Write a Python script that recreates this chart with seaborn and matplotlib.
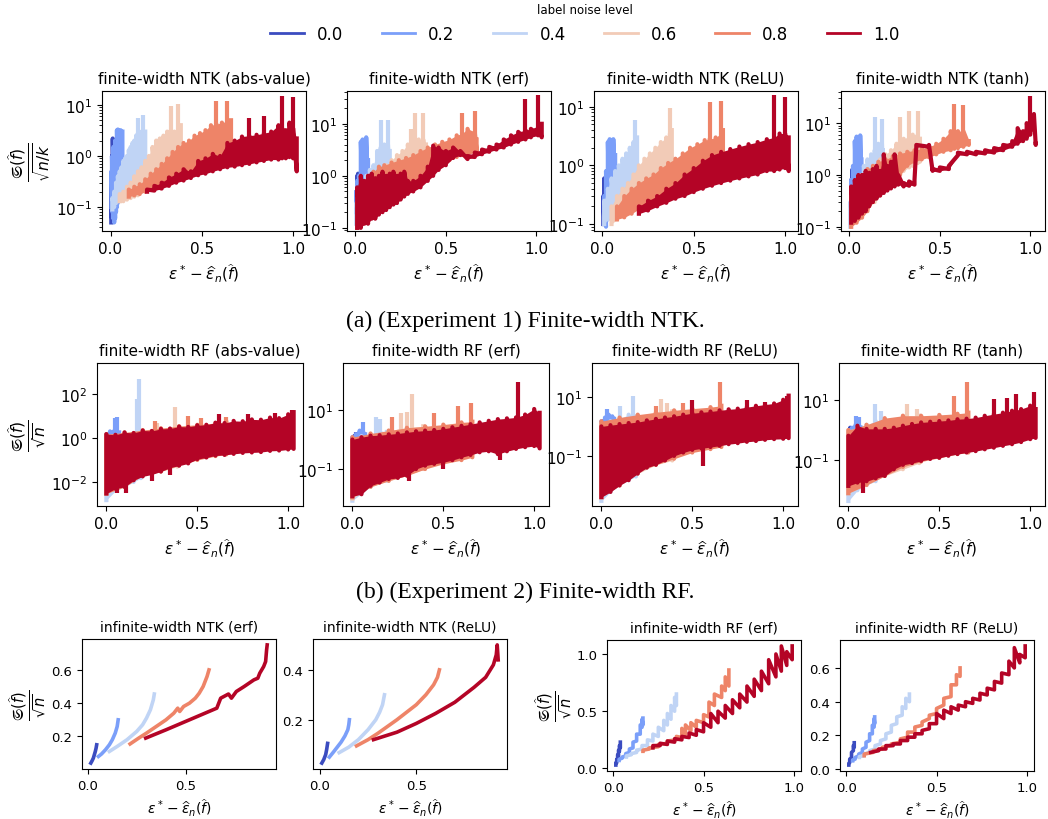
import numpy as np
import matplotlib
matplotlib.use("Agg")
import matplotlib.pyplot as plt
from matplotlib.lines import Line2D
import seaborn as sns

# label noise levels (legend)
noise_levels = ["0.0", "0.2", "0.4", "0.6", "0.8", "1.0"]

# ---------------------------------------------------------------------------
# (a) finite-width NTK : x, lower / upper edge of the saw-tooth band per noise
#     level, plus isolated spikes (sx, sy)
# ---------------------------------------------------------------------------
ntk_abs_x = [
    [0.004, 0.008, 0.012, 0.016],
    [0.005, 0.01, 0.015, 0.02, 0.025, 0.03, 0.035, 0.04, 0.045, 0.05, 0.055, 0.06, 0.065],
    [0.01, 0.02, 0.03, 0.04, 0.05, 0.06, 0.07, 0.08, 0.09, 0.1, 0.11, 0.12, 0.13, 0.14, 0.15, 0.16, 0.17, 0.18, 0.19],
    [0.05, 0.07, 0.09, 0.11, 0.13, 0.15, 0.17, 0.19, 0.21, 0.23, 0.25, 0.27, 0.29, 0.31, 0.33, 0.35, 0.37, 0.385],
    [0.10, 0.13, 0.16, 0.19, 0.22, 0.25, 0.28, 0.31, 0.34, 0.37, 0.40, 0.43, 0.46, 0.49, 0.52, 0.55, 0.58, 0.61, 0.64, 0.66],
    [0.20, 0.24, 0.28, 0.32, 0.36, 0.40, 0.44, 0.48, 0.52, 0.56, 0.60, 0.64, 0.68, 0.72, 0.76, 0.80, 0.84, 0.88, 0.92, 0.94, 0.96, 0.98, 1.00, 1.02],
]
ntk_abs_lo = [
    [0.05, 0.06, 0.08, 0.1],
    [0.1, 0.08, 0.06, 0.05, 0.06, 0.08, 0.1, 0.12, 0.15, 0.15, 0.18, 0.2, 0.25],
    [0.09, 0.1, 0.12, 0.14, 0.16, 0.18, 0.2, 0.22, 0.26, 0.3, 0.33, 0.36, 0.4, 0.43, 0.45, 0.5, 0.55, 0.6, 0.7],
    [0.13, 0.13, 0.14, 0.15, 0.16, 0.17, 0.2, 0.22, 0.25, 0.28, 0.3, 0.35, 0.4, 0.45, 0.5, 0.55, 0.6, 0.7],
    [0.16, 0.17, 0.18, 0.2, 0.22, 0.25, 0.28, 0.32, 0.36, 0.4, 0.45, 0.5, 0.55, 0.6, 0.65, 0.7, 0.8, 0.85, 0.9, 1.0],
    [0.2, 0.21, 0.23, 0.26, 0.3, 0.33, 0.37, 0.42, 0.45, 0.5, 0.55, 0.6, 0.62, 0.66, 0.7, 0.75, 0.8, 0.85, 0.85, 0.9, 0.9, 0.95, 0.9, 0.5],
]
ntk_abs_hi = [
    [0.3, 1.0, 2.2, 2.0],
    [0.5, 1.0, 1.5, 1.2, 2.0, 1.5, 3.2, 3.3, 2.0, 1.5, 3.2, 2.5, 3.0],
    [0.15, 0.2, 0.3, 0.4, 0.5, 0.6, 0.8, 0.9, 1.0, 1.3, 1.5, 1.8, 2.0, 2.5, 2.8, 2.5, 3.0, 3.0, 3.0],
    [0.18, 0.2, 0.25, 0.3, 0.4, 0.5, 0.6, 0.8, 1.0, 1.5, 2.0, 2.2, 2.5, 3.0, 3.2, 3.0, 3.5, 4.0],
    [0.22, 0.25, 0.28, 0.35, 0.45, 0.55, 0.7, 0.9, 1.2, 1.5, 1.8, 2.0, 2.5, 2.8, 3.2, 4.0, 4.2, 4.5, 4.8, 5.0],
    [0.22, 0.26, 0.3, 0.38, 0.45, 0.55, 0.5, 0.8, 0.9, 1.1, 1.0, 1.8, 2.0, 2.4, 2.5, 2.6, 2.8, 3.0, 4.0, 3.5, 3.2, 4.5, 3.5, 2.2],
]
ntk_abs_sx = [[], [], [0.15, 0.18], [0.33, 0.37], [0.58, 0.64], [0.76, 0.84, 0.94, 1.0]]
ntk_abs_sy = [[], [], [5.5, 6.2], [9.5, 10.5], [12.0, 12.0], [5.5, 6.0, 15.0, 14.0]]

ntk_erf_x = [
    [0.005, 0.01, 0.015, 0.02],
    [0.005, 0.01, 0.02, 0.03, 0.04, 0.05, 0.06, 0.07],
    [0.005, 0.02, 0.04, 0.06, 0.08, 0.1, 0.12, 0.14, 0.16, 0.18, 0.19],
    [0.02, 0.05, 0.08, 0.11, 0.14, 0.17, 0.2, 0.23, 0.26, 0.29, 0.31, 0.33, 0.35, 0.375, 0.39],
    [0.01, 0.04, 0.07, 0.1, 0.13, 0.16, 0.2, 0.24, 0.28, 0.32, 0.36, 0.4, 0.44, 0.48, 0.52, 0.56, 0.59, 0.62, 0.66, 0.67],
    [0.01, 0.03, 0.05, 0.07, 0.09, 0.11, 0.13, 0.15, 0.17, 0.19, 0.21, 0.23, 0.25, 0.27, 0.29, 0.32, 0.36, 0.40,
     0.43, 0.46, 0.50, 0.54, 0.58, 0.62, 0.66, 0.70, 0.74, 0.78, 0.82, 0.86, 0.90, 0.94, 0.97, 1.01, 1.03],
]
ntk_erf_lo = [
    [0.3, 0.25, 0.3, 0.4],
    [0.2, 0.25, 0.3, 0.35, 0.4, 0.5, 0.5, 0.6],
    [0.12, 0.15, 0.2, 0.3, 0.4, 0.5, 0.6, 0.7, 0.8, 0.9, 1.0],
    [0.12, 0.14, 0.18, 0.22, 0.28, 0.35, 0.45, 0.55, 0.7, 0.8, 0.9, 1.0, 1.1, 1.2, 1.3],
    [0.1, 0.12, 0.14, 0.18, 0.22, 0.3, 0.35, 0.45, 0.55, 0.7, 0.9, 1.2, 1.5, 1.8, 2.0, 2.3, 2.5, 2.6, 2.8, 3.0],
    [0.1, 0.1, 0.12, 0.12, 0.15, 0.15, 0.18, 0.2, 0.22, 0.25, 0.28, 0.3, 0.35, 0.4, 0.45, 0.5, 0.6, 0.8,
     1.0, 1.3, 1.6, 2.2, 2.5, 2.1, 2.3, 2.6, 2.9, 3.2, 3.5, 4.0, 4.5, 5.0, 5.5, 6.0, 5.5],
]
ntk_erf_hi = [
    [0.5, 1.0, 1.1, 0.8],
    [0.5, 0.8, 1.0, 4.5, 5.0, 3.0, 5.5, 2.0],
    [0.3, 0.5, 0.8, 1.0, 1.3, 1.6, 3.0, 3.5, 4.0, 4.0, 3.0],
    [0.3, 0.5, 0.8, 1.0, 1.3, 1.6, 2.0, 2.5, 3.0, 4.0, 4.5, 5.0, 5.0, 5.0, 4.0],
    [0.3, 0.6, 1.0, 1.2, 1.5, 1.6, 1.8, 2.0, 2.2, 2.5, 3.0, 3.5, 4.0, 4.5, 5.0, 6.0, 6.5, 8.0, 7.0, 5.0],
    [0.6, 1.0, 0.8, 1.0, 1.1, 0.9, 1.0, 1.2, 1.0, 1.1, 1.2, 1.0, 1.1, 1.2, 0.8, 0.8, 1.0, 1.5,
     3.8, 3.5, 3.0, 3.5, 3.0, 2.4, 2.8, 3.2, 3.6, 4.0, 5.0, 6.0, 7.0, 7.5, 8.0, 9.0, 10.0],
]
ntk_erf_sx = [[], [], [0.14, 0.18], [0.31, 0.33, 0.375], [0.59, 0.66], [0.94, 1.01]]
ntk_erf_sy = [[], [], [12.0, 12.0], [8.0, 16.0, 16.0], [16.0, 18.0], [30.0, 35.0]]

ntk_relu_x = [
    [0.005, 0.01, 0.015, 0.02],
    [0.01, 0.02, 0.03, 0.04, 0.05, 0.06, 0.07],
    [0.01, 0.03, 0.05, 0.07, 0.09, 0.11, 0.13, 0.15, 0.17, 0.18, 0.19],
    [0.05, 0.08, 0.11, 0.14, 0.17, 0.2, 0.23, 0.26, 0.29, 0.32, 0.35, 0.37, 0.38],
    [0.08, 0.12, 0.16, 0.2, 0.24, 0.28, 0.32, 0.36, 0.4, 0.44, 0.48, 0.52, 0.56, 0.587, 0.62, 0.65, 0.66],
    [0.2, 0.25, 0.3, 0.35, 0.4, 0.45, 0.5, 0.55, 0.6, 0.65, 0.7, 0.75, 0.8, 0.85, 0.9, 0.94, 0.97, 1.0, 1.02],
]
ntk_relu_lo = [
    [0.1, 0.12, 0.15, 0.2],
    [0.1, 0.09, 0.12, 0.15, 0.2, 0.25, 0.3],
    [0.1, 0.12, 0.15, 0.18, 0.22, 0.26, 0.3, 0.35, 0.4, 0.45, 0.5],
    [0.1, 0.12, 0.14, 0.17, 0.2, 0.25, 0.3, 0.35, 0.4, 0.45, 0.55, 0.6, 0.7],
    [0.12, 0.13, 0.15, 0.18, 0.2, 0.22, 0.25, 0.3, 0.35, 0.4, 0.45, 0.5, 0.55, 0.6, 0.65, 0.7, 0.8],
    [0.15, 0.17, 0.2, 0.23, 0.27, 0.3, 0.35, 0.4, 0.45, 0.5, 0.55, 0.6, 0.65, 0.7, 0.8, 0.8, 0.85, 0.9, 0.8],
]
ntk_relu_hi = [
    [0.3, 0.6, 0.5, 0.4],
    [0.3, 0.8, 2.5, 2.8, 1.5, 2.8, 1.5],
    [0.25, 0.4, 0.6, 0.8, 1.0, 1.3, 1.6, 2.0, 2.5, 2.7, 3.0],
    [0.2, 0.3, 0.4, 0.5, 0.7, 1.0, 1.3, 1.6, 2.0, 2.5, 3.0, 3.5, 4.0],
    [0.2, 0.3, 0.4, 0.5, 0.6, 0.7, 0.9, 1.1, 1.3, 1.6, 2.0, 2.3, 2.7, 2.8, 3.0, 3.5, 4.0],
    [0.2, 0.25, 0.3, 0.4, 0.5, 0.7, 0.9, 1.2, 1.5, 1.7, 1.9, 2.1, 2.3, 2.5, 2.8, 3.0, 3.5, 3.5, 3.0],
]
ntk_relu_sx = [[], [], [0.18], [0.37], [0.587, 0.65], [0.94, 1.0]]
ntk_relu_sy = [[], [], [5.9], [9.4], [12.0, 12.5], [15.7, 14.5]]

ntk_tanh_x = [
    [0.01, 0.015, 0.02, 0.025, 0.03],
    [0.01, 0.02, 0.03, 0.04, 0.05, 0.06, 0.067],
    [0.005, 0.02, 0.04, 0.06, 0.08, 0.1, 0.12, 0.14, 0.16, 0.18, 0.185],
    [0.02, 0.05, 0.08, 0.11, 0.14, 0.17, 0.2, 0.23, 0.26, 0.28, 0.3, 0.33, 0.35, 0.378, 0.39],
    [0.01, 0.04, 0.07, 0.1, 0.13, 0.16, 0.2, 0.24, 0.28, 0.32, 0.36, 0.4, 0.44, 0.48, 0.52, 0.56, 0.58, 0.6, 0.63, 0.66],
    [0.01, 0.03, 0.05, 0.07, 0.09, 0.11, 0.13, 0.15, 0.17, 0.19, 0.21, 0.23, 0.25, 0.27, 0.3, 0.33, 0.36, 0.37,
     0.44, 0.46, 0.5, 0.55, 0.6, 0.65, 0.7, 0.75, 0.8, 0.85, 0.9, 0.93, 0.96, 0.98, 1.0, 1.02, 1.03],
]
ntk_tanh_lo = [
    [0.3, 0.35, 0.4, 0.4, 0.5],
    [0.2, 0.25, 0.3, 0.35, 0.4, 0.5, 0.6],
    [0.1, 0.12, 0.15, 0.2, 0.3, 0.4, 0.5, 0.6, 0.8, 1.0, 1.2],
    [0.12, 0.14, 0.18, 0.25, 0.3, 0.4, 0.5, 0.7, 0.9, 1.0, 1.2, 1.4, 1.5, 1.7, 1.8],
    [0.1, 0.12, 0.15, 0.2, 0.3, 0.4, 0.6, 0.8, 1.0, 1.5, 1.8, 2.0, 2.2, 2.5, 2.8, 3.0, 3.2, 3.3, 3.5, 3.8],
    [0.12, 0.13, 0.15, 0.18, 0.2, 0.25, 0.3, 0.35, 0.4, 0.45, 0.5, 0.55, 0.6, 0.65, 0.6, 0.62, 0.65, 3.5,
     3.5, 1.2, 1.2, 1.3, 2.4, 2.5, 2.5, 2.6, 2.7, 3.0, 3.5, 4.0, 4.5, 5.0, 6.0, 8.0, 3.8],
]
ntk_tanh_hi = [
    [0.8, 1.25, 1.0, 1.2, 0.8],
    [0.8, 1.5, 4.5, 5.5, 3.0, 5.8, 2.0],
    [0.3, 0.5, 0.8, 1.0, 1.5, 2.0, 2.5, 3.0, 4.0, 4.0, 3.0],
    [0.3, 0.5, 0.8, 1.0, 1.5, 2.0, 2.5, 3.0, 4.0, 4.5, 5.0, 5.5, 6.0, 6.0, 5.0],
    [0.4, 0.8, 1.0, 1.3, 1.5, 1.8, 2.0, 2.3, 2.6, 2.8, 3.0, 3.2, 3.5, 4.0, 5.0, 7.0, 7.0, 7.0, 7.0, 4.5],
    [0.6, 0.8, 1.0, 1.0, 1.2, 1.1, 1.3, 1.5, 1.2, 2.5, 1.5, 1.8, 2.5, 1.0, 0.7, 0.75, 0.8, 3.8,
     3.8, 1.3, 1.4, 1.5, 2.7, 2.8, 2.8, 3.0, 3.3, 3.8, 4.5, 8.0, 7.0, 10.0, 12.0, 15.0, 4.0],
]
ntk_tanh_sx = [[], [], [0.14, 0.18], [0.28, 0.33, 0.378], [0.58, 0.63], [1.0]]
ntk_tanh_sy = [[], [], [13.0, 12.0], [13.0, 17.0, 17.0], [23.0, 22.0], [34.0]]

# ---------------------------------------------------------------------------
# (b) finite-width RF : dense bands (x, lower, upper) + isolated spikes
# ---------------------------------------------------------------------------
red_x = [0.0, 0.05, 0.1, 0.15, 0.2, 0.25, 0.3, 0.35, 0.4, 0.45, 0.5, 0.55, 0.6, 0.65, 0.7, 0.75, 0.8, 0.85, 0.9, 0.95, 1.0, 1.03]

rf_abs_x = [[0.0, 0.01, 0.02], [0.0, 0.02, 0.04, 0.07], [0.0, 0.05, 0.1, 0.15, 0.19],
            [0.0, 0.1, 0.2, 0.3, 0.39], [0.0, 0.1, 0.2, 0.3, 0.4, 0.5, 0.6, 0.66], red_x]
rf_abs_lo = [
    [0.005, 0.006, 0.008],
    [0.003, 0.004, 0.006, 0.01],
    [0.0015, 0.004, 0.006, 0.01, 0.015],
    [0.003, 0.006, 0.02, 0.03, 0.05],
    [0.003, 0.006, 0.02, 0.03, 0.06, 0.1, 0.15, 0.18],
    [0.003, 0.005, 0.006, 0.012, 0.018, 0.022, 0.03, 0.045, 0.055, 0.07, 0.11, 0.13, 0.16, 0.17, 0.19, 0.21, 0.22, 0.23, 0.26, 0.27, 0.3, 0.32],
]
rf_abs_hi = [
    [1.0, 1.2, 1.5],
    [1.5, 2.0, 2.0, 1.8],
    [1.0, 1.2, 1.4, 1.6, 1.8],
    [1.3, 1.5, 2.0, 2.5, 3.0],
    [1.5, 1.8, 2.3, 2.8, 3.5, 4.0, 4.8, 5.0],
    [1.5, 1.4, 1.8, 1.7, 2.2, 2.1, 2.6, 2.7, 3.3, 3.2, 3.8, 4.0, 5.0, 4.8, 6.0, 5.8, 7.0, 6.8, 8.5, 8.0, 12.0, 15.0],
]
rf_abs_sx = [[], [0.05, 0.06], [0.17, 0.18], [0.28, 0.38], [0.27, 0.45, 0.52, 0.66],
             [0.06, 0.11, 0.25, 0.35, 0.62, 0.78, 0.93, 1.02]]
rf_abs_sy = [[], [8, 9], [60, 500], [5, 25], [6, 10, 8, 9],
             [0.003, 0.003, 0.011, 0.02, 12, 12, 14, 18]]

rf_erf_x = [[0.0, 0.01, 0.02], [0.0, 0.02, 0.04, 0.06, 0.07], [0.0, 0.05, 0.1, 0.15, 0.19],
            [0.0, 0.1, 0.2, 0.3, 0.39], [0.0, 0.1, 0.2, 0.3, 0.4, 0.5, 0.6, 0.66], red_x]
rf_erf_lo = [
    [0.02, 0.03, 0.05],
    [0.012, 0.015, 0.02, 0.03, 0.04],
    [0.0085, 0.015, 0.025, 0.035, 0.04],
    [0.01, 0.025, 0.04, 0.06, 0.1],
    [0.011, 0.025, 0.04, 0.06, 0.1, 0.15, 0.2, 0.25],
    [0.012, 0.014, 0.027, 0.035, 0.046, 0.05, 0.06, 0.1, 0.13, 0.15, 0.17, 0.2, 0.25, 0.3, 0.37, 0.4, 0.32, 0.4, 0.48, 0.55, 0.6, 0.5],
]
rf_erf_hi = [
    [1.0, 1.3, 1.5],
    [1.2, 1.5, 2.0, 1.8, 1.5],
    [1.0, 1.3, 1.5, 2.0, 1.8],
    [1.0, 1.5, 2.0, 2.5, 2.8],
    [1.2, 1.6, 2.0, 2.5, 2.8, 3.2, 3.8, 4.0],
    [1.0, 1.2, 1.35, 1.4, 1.5, 1.6, 1.75, 1.9, 2.0, 2.1, 2.3, 2.6, 2.9, 3.3, 3.8, 4.3, 4.9, 5.2, 5.6, 7.0, 10.8, 8.0],
]
rf_erf_sx = [[], [0.06], [0.13, 0.15], [0.27, 0.3, 0.33], [0.22, 0.45, 0.58, 0.65], [0.04, 0.31, 0.5, 0.81, 0.91]]
rf_erf_sy = [[], [3.8], [5.6, 5.0], [8, 8.3, 35], [6, 8, 14, 17], [0.015, 0.04, 0.1, 0.2, 87]]

rf_relu_x = [[0.0, 0.01, 0.02], [0.0, 0.02, 0.04, 0.06, 0.07], [0.0, 0.05, 0.1, 0.15, 0.19],
             [0.0, 0.1, 0.2, 0.3, 0.39], [0.0, 0.1, 0.2, 0.3, 0.4, 0.5, 0.6, 0.66], red_x]
rf_relu_lo = [
    [0.01, 0.02, 0.03],
    [0.005, 0.008, 0.01, 0.015, 0.02],
    [0.003, 0.006, 0.01, 0.015, 0.02],
    [0.004, 0.01, 0.025, 0.05, 0.07],
    [0.004, 0.01, 0.03, 0.05, 0.08, 0.13, 0.17, 0.2],
    [0.004, 0.006, 0.01, 0.015, 0.025, 0.04, 0.05, 0.07, 0.1, 0.13, 0.16, 0.18, 0.2, 0.22, 0.25, 0.27, 0.3, 0.32, 0.35, 0.37, 0.38, 0.4],
]
rf_relu_hi = [
    [1.2, 1.5, 1.4],
    [1.5, 2.0, 2.5, 2.2, 1.8],
    [1.2, 1.5, 1.8, 2.5, 2.2],
    [1.3, 1.8, 2.3, 3.0, 3.2],
    [1.5, 2.0, 2.5, 3.0, 3.5, 4.0, 4.5, 5.0],
    [1.0, 1.1, 1.2, 1.3, 1.4, 1.6, 1.8, 2.0, 2.2, 2.5, 2.8, 3.0, 3.2, 3.5, 3.8, 4.0, 4.5, 5.0, 5.5, 6.0, 8.0, 11.0],
]
rf_relu_sx = [[], [0.03], [0.1, 0.175], [0.33, 0.36], [0.3, 0.45, 0.65], [0.5, 0.56, 0.8, 0.9, 1.02]]
rf_relu_sy = [[], [4], [5, 10.8], [8.6, 6], [5, 6, 32], [8, 0.046, 8, 6.8, 10.8]]

rf_tanh_x = [[0.0, 0.01, 0.02], [0.0, 0.02, 0.04, 0.06, 0.07], [0.0, 0.05, 0.1, 0.15, 0.19],
             [0.0, 0.1, 0.2, 0.3, 0.39], [0.0, 0.1, 0.2, 0.3, 0.4, 0.5, 0.6, 0.66], red_x]
rf_tanh_lo = [
    [0.02, 0.03, 0.04],
    [0.008, 0.01, 0.015, 0.02, 0.03],
    [0.0044, 0.01, 0.015, 0.02, 0.03],
    [0.008, 0.015, 0.03, 0.05, 0.08],
    [0.008, 0.015, 0.03, 0.06, 0.09, 0.12, 0.16, 0.18],
    [0.014, 0.018, 0.02, 0.025, 0.03, 0.05, 0.07, 0.08, 0.095, 0.11, 0.12, 0.14, 0.16, 0.18, 0.2, 0.23, 0.26, 0.3, 0.34, 0.4, 0.5, 0.55],
]
rf_tanh_hi = [
    [0.8, 1.2, 1.0],
    [0.8, 1.2, 1.5, 1.4, 1.2],
    [0.8, 1.2, 1.5, 2.0, 1.8],
    [1.0, 1.5, 2.0, 3.0, 3.0],
    [1.0, 1.5, 2.5, 3.0, 3.0, 3.2, 3.5, 3.8],
    [0.65, 1.4, 1.1, 1.1, 1.1, 1.2, 1.4, 1.6, 1.8, 1.9, 2.0, 2.1, 2.3, 2.4, 2.6, 3.0, 3.4, 3.8, 4.4, 5.0, 6.5, 5.0],
]
rf_tanh_sx = [[], [0.04, 0.06], [0.148, 0.18], [0.32, 0.375], [0.58, 0.65], [0.08, 0.8, 0.875, 0.92, 1.02]]
rf_tanh_sy = [[], [3, 2.8], [7.4, 4.4], [7.4, 5], [14, 39], [0.008, 10.8, 12, 16, 18]]

# ---------------------------------------------------------------------------
# (c) infinite-width kernels (linear axes)
# ---------------------------------------------------------------------------
inf_ntk_erf_x = [
    [0.015, 0.022, 0.028, 0.033, 0.038, 0.042, 0.045],
    [0.054, 0.07, 0.09, 0.11, 0.125, 0.14, 0.15, 0.155],
    [0.11, 0.15, 0.2, 0.25, 0.28, 0.3, 0.32, 0.335, 0.34],
    [],
    [0.216, 0.26, 0.3, 0.35, 0.4, 0.44, 0.46, 0.47, 0.49, 0.52, 0.55, 0.57, 0.59, 0.61, 0.62],
    [0.296, 0.4, 0.5, 0.6, 0.66, 0.68, 0.72, 0.735, 0.76, 0.8, 0.85, 0.87, 0.88, 0.9, 0.91, 0.915, 0.918],
]
inf_ntk_erf_y = [
    [0.04, 0.055, 0.07, 0.09, 0.11, 0.13, 0.15],
    [0.08, 0.095, 0.12, 0.15, 0.18, 0.22, 0.26, 0.3],
    [0.11, 0.14, 0.18, 0.23, 0.27, 0.31, 0.36, 0.42, 0.455],
    [],
    [0.155, 0.19, 0.22, 0.26, 0.3, 0.34, 0.37, 0.35, 0.38, 0.4, 0.43, 0.46, 0.5, 0.56, 0.6],
    [0.19, 0.24, 0.29, 0.34, 0.37, 0.43, 0.455, 0.43, 0.47, 0.5, 0.54, 0.55, 0.58, 0.62, 0.65, 0.72, 0.75],
]

inf_ntk_relu_x = [
    [0.01, 0.02, 0.03, 0.035, 0.04],
    [0.049, 0.07, 0.09, 0.11, 0.13, 0.145, 0.15, 0.153],
    [0.1, 0.15, 0.2, 0.25, 0.29, 0.31, 0.325, 0.335],
    [],
    [0.19, 0.25, 0.3, 0.4, 0.5, 0.55, 0.59, 0.61, 0.62],
    [0.278, 0.4, 0.5, 0.6, 0.7, 0.8, 0.86, 0.9, 0.915, 0.92, 0.925],
]
inf_ntk_relu_y = [
    [0.026, 0.04, 0.06, 0.08, 0.105],
    [0.05, 0.07, 0.09, 0.11, 0.135, 0.16, 0.18, 0.2],
    [0.068, 0.09, 0.12, 0.16, 0.2, 0.23, 0.26, 0.3],
    [],
    [0.095, 0.12, 0.145, 0.2, 0.26, 0.3, 0.34, 0.37, 0.4],
    [0.12, 0.15, 0.185, 0.225, 0.27, 0.33, 0.37, 0.42, 0.46, 0.5, 0.44],
]

inf_rf_erf_x = [
    [0.015, 0.02, 0.025, 0.03, 0.035, 0.04],
    [0.033, 0.05, 0.07, 0.09, 0.11, 0.13, 0.15, 0.16, 0.165],
    [0.073, 0.1, 0.13, 0.16, 0.19, 0.22, 0.25, 0.28, 0.3, 0.32, 0.34, 0.35],
    [],
    [0.165, 0.2, 0.25, 0.3, 0.35, 0.38, 0.4, 0.43, 0.46, 0.5, 0.53, 0.56, 0.6, 0.62, 0.64],
    [0.22, 0.26, 0.3, 0.34, 0.38, 0.42, 0.46, 0.5, 0.54, 0.58, 0.62, 0.66, 0.7, 0.74, 0.78, 0.82, 0.86, 0.9, 0.93, 0.96, 0.99],
]
inf_rf_erf_lo = [
    [0.03, 0.05, 0.08, 0.11, 0.15, 0.18],
    [0.07, 0.09, 0.11, 0.14, 0.18, 0.24, 0.3, 0.36, 0.38],
    [0.1, 0.12, 0.14, 0.17, 0.2, 0.24, 0.28, 0.33, 0.38, 0.43, 0.5, 0.55],
    [],
    [0.15, 0.17, 0.19, 0.22, 0.25, 0.27, 0.3, 0.33, 0.36, 0.4, 0.45, 0.55, 0.62, 0.68, 0.72],
    [0.18, 0.2, 0.21, 0.23, 0.25, 0.27, 0.29, 0.32, 0.36, 0.4, 0.44, 0.48, 0.53, 0.58, 0.63, 0.68, 0.74, 0.8, 0.85, 0.9, 0.95],
]
inf_rf_erf_hi = [
    [0.05, 0.08, 0.12, 0.16, 0.2, 0.23],
    [0.08, 0.1, 0.13, 0.17, 0.23, 0.3, 0.38, 0.43, 0.44],
    [0.11, 0.13, 0.16, 0.2, 0.25, 0.3, 0.36, 0.42, 0.48, 0.55, 0.62, 0.65],
    [],
    [0.16, 0.18, 0.21, 0.24, 0.28, 0.35, 0.38, 0.4, 0.42, 0.47, 0.58, 0.65, 0.72, 0.8, 0.86],
    [0.2, 0.22, 0.24, 0.26, 0.28, 0.31, 0.34, 0.4, 0.48, 0.5, 0.55, 0.6, 0.65, 0.72, 0.78, 0.85, 0.95, 1.0, 1.07, 1.02, 1.07],
]

inf_rf_relu_x = [
    [0.015, 0.02, 0.03, 0.04, 0.045],
    [0.036, 0.05, 0.07, 0.09, 0.11, 0.13, 0.145, 0.155, 0.158],
    [0.073, 0.1, 0.13, 0.16, 0.19, 0.22, 0.25, 0.28, 0.31, 0.33, 0.35],
    [],
    [0.1, 0.15, 0.2, 0.25, 0.3, 0.34, 0.38, 0.42, 0.46, 0.5, 0.54, 0.58, 0.61, 0.63],
    [0.136, 0.18, 0.22, 0.26, 0.3, 0.34, 0.38, 0.42, 0.46, 0.5, 0.54, 0.58, 0.62, 0.66, 0.7, 0.74, 0.78, 0.82, 0.86, 0.9, 0.93, 0.96, 0.99],
]
inf_rf_relu_lo = [
    [0.025, 0.04, 0.07, 0.11, 0.13],
    [0.05, 0.06, 0.08, 0.1, 0.13, 0.17, 0.21, 0.25, 0.27],
    [0.07, 0.08, 0.1, 0.12, 0.15, 0.18, 0.22, 0.27, 0.32, 0.36, 0.4],
    [],
    [0.08, 0.1, 0.12, 0.14, 0.16, 0.19, 0.22, 0.26, 0.3, 0.33, 0.38, 0.43, 0.5, 0.55],
    [0.1, 0.11, 0.12, 0.14, 0.15, 0.17, 0.19, 0.21, 0.24, 0.27, 0.3, 0.33, 0.35, 0.37, 0.39, 0.41, 0.44, 0.47, 0.51, 0.56, 0.6, 0.63, 0.66],
]
inf_rf_relu_hi = [
    [0.035, 0.06, 0.1, 0.14, 0.157],
    [0.055, 0.07, 0.09, 0.12, 0.16, 0.21, 0.26, 0.3, 0.31],
    [0.075, 0.09, 0.11, 0.14, 0.17, 0.21, 0.26, 0.31, 0.37, 0.42, 0.445],
    [],
    [0.09, 0.11, 0.13, 0.15, 0.18, 0.22, 0.25, 0.28, 0.32, 0.36, 0.42, 0.5, 0.56, 0.6],
    [0.1, 0.12, 0.14, 0.15, 0.17, 0.19, 0.21, 0.23, 0.27, 0.33, 0.35, 0.37, 0.38, 0.4, 0.42, 0.45, 0.48, 0.52, 0.57, 0.64, 0.72, 0.68, 0.73],
]

colors = sns.color_palette("coolwarm", as_cmap=True)(np.linspace(0, 1, len(noise_levels)))

W, H = 1048, 820
XLAB = r"$\varepsilon^* - \widehat{\varepsilon}_n(\widehat{f})$"
YLAB_K = r"$\frac{\mathfrak{S}(\widehat{f})}{\sqrt{n/k}}$"
YLAB_N = r"$\frac{\mathfrak{S}(\widehat{f})}{\sqrt{n}}$"


def px_axes(fig, left, top, width, bottom):
    return fig.add_axes([left / W, 1 - bottom / H, width / W, (bottom - top) / H])


def saw(ax, x, lo, hi, color, lw, z=2):
    # alternate lower / upper value at each x -> saw-tooth line
    xs = np.repeat(np.asarray(x, float), 2)
    ys = np.column_stack([lo, hi]).ravel()
    sns.lineplot(x=xs, y=ys, ax=ax, color=color, lw=lw, sort=False,
                 estimator=None, legend=False, zorder=z)


def finite_panel(ax, xs, los, his, sx, sy, title, ylim):
    ax.set_yscale("log")
    for i in range(len(xs)):
        if len(xs[i]) == 0:
            continue
        z = 2 + i
        ax.fill_between(xs[i], los[i], his[i], color=colors[i], lw=0, zorder=z)
        saw(ax, xs[i], los[i], his[i], colors[i], 3, z)
        if len(sx[i]) > 0:
            base = np.sqrt(np.interp(sx[i], xs[i], los[i]) * np.interp(sx[i], xs[i], his[i]))
            ax.vlines(sx[i], base, sy[i], color=colors[i], lw=3, zorder=z)
    ax.set_ylim(*ylim)
    ax.set_title(title, fontsize=11)
    ax.set_xlabel(XLAB, fontsize=11)
    ax.set_ylabel("")
    ax.tick_params(labelsize=11)


fig = plt.figure(figsize=(W / 100, H / 100), dpi=100)

# ----- row (a)
row_a = [
    (ntk_abs_x, ntk_abs_lo, ntk_abs_hi, ntk_abs_sx, ntk_abs_sy, "finite-width NTK (abs-value)", (0.034, 18.7), 102),
    (ntk_erf_x, ntk_erf_lo, ntk_erf_hi, ntk_erf_sx, ntk_erf_sy, "finite-width NTK (erf)", (0.087, 42.7), 347),
    (ntk_relu_x, ntk_relu_lo, ntk_relu_hi, ntk_relu_sx, ntk_relu_sy, "finite-width NTK (ReLU)", (0.076, 18.6), 594),
    (ntk_tanh_x, ntk_tanh_lo, ntk_tanh_hi, ntk_tanh_sx, ntk_tanh_sy, "finite-width NTK (tanh)", (0.083, 41.7), 841),
]
for k, (xs, los, his, sx, sy, title, ylim, left) in enumerate(row_a):
    ax = px_axes(fig, left, 92, 204, 232)
    finite_panel(ax, xs, los, his, sx, sy, title, ylim)
    if k == 0:
        ax.set_ylabel(YLAB_K, fontsize=16, labelpad=2)

# ----- row (b)
row_b = [
    (rf_abs_x, rf_abs_lo, rf_abs_hi, rf_abs_sx, rf_abs_sy, "finite-width RF (abs-value)", (8.1e-4, 2570), 97),
    (rf_erf_x, rf_erf_lo, rf_erf_hi, rf_erf_sx, rf_erf_sy, "finite-width RF (erf)", (0.0056, 389), 343),
    (rf_relu_x, rf_relu_lo, rf_relu_hi, rf_relu_sx, rf_relu_sy, "finite-width RF (ReLU)", (0.002, 141), 592),
    (rf_tanh_x, rf_tanh_lo, rf_tanh_hi, rf_tanh_sx, rf_tanh_sy, "finite-width RF (tanh)", (0.003, 170), 839),
]
for k, (xs, los, his, sx, sy, title, ylim, left) in enumerate(row_b):
    ax = px_axes(fig, left, 364, 206, 507)
    finite_panel(ax, xs, los, his, sx, sy, title, ylim)
    if k == 0:
        ax.set_ylabel(YLAB_N, fontsize=16, labelpad=2)

# ----- row (c)
row_c_ntk = [
    (inf_ntk_erf_x, inf_ntk_erf_y, "infinite-width NTK (erf)", 82, True),
    (inf_ntk_relu_x, inf_ntk_relu_y, "infinite-width NTK (ReLU)", 313, False),
]
for xs, ys, title, left, lab in row_c_ntk:
    ax = px_axes(fig, left, 640, 194, 770)
    for i in range(len(xs)):
        if len(xs[i]) == 0:
            continue
        sns.lineplot(x=xs[i], y=ys[i], ax=ax, color=colors[i], lw=2.6, sort=False,
                     estimator=None, legend=False)
    ax.set_xticks([0.0, 0.5])
    ax.set_title(title, fontsize=10)
    ax.set_xlabel(XLAB, fontsize=10)
    ax.set_ylabel(YLAB_N if lab else "", fontsize=15, labelpad=2)
    ax.tick_params(labelsize=9.5)

row_c_rf = [
    (inf_rf_erf_x, inf_rf_erf_lo, inf_rf_erf_hi, "infinite-width RF (erf)", 607, True),
    (inf_rf_relu_x, inf_rf_relu_lo, inf_rf_relu_hi, "infinite-width RF (ReLU)", 840, False),
]
for xs, los, his, title, left, lab in row_c_rf:
    ax = px_axes(fig, left, 641, 194, 772)
    for i in range(len(xs)):
        if len(xs[i]) == 0:
            continue
        saw(ax, xs[i], los[i], his[i], colors[i], 2.6)
    ax.set_title(title, fontsize=10)
    ax.set_xlabel(XLAB, fontsize=10)
    ax.set_ylabel(YLAB_N if lab else "", fontsize=15, labelpad=2)
    ax.tick_params(labelsize=9.5)

# captions
fig.text(525 / W, 1 - 321 / H, "(a) (Experiment 1) Finite-width NTK.", ha="center", va="center",
         family="Liberation Serif", fontsize=17)
fig.text(525 / W, 1 - 592 / H, "(b) (Experiment 2) Finite-width RF.", ha="center", va="center",
         family="Liberation Serif", fontsize=17)

handles = [Line2D([0], [0], color=c, lw=2) for c in colors]
fig.legend(handles, noise_levels, title="label noise level", loc="upper center",
           bbox_to_anchor=(585 / W, 1.013), ncol=6, frameon=False, fontsize=12,
           title_fontsize=8.5, columnspacing=2.3, handlelength=2)

fig.savefig("out.png", dpi=100)
